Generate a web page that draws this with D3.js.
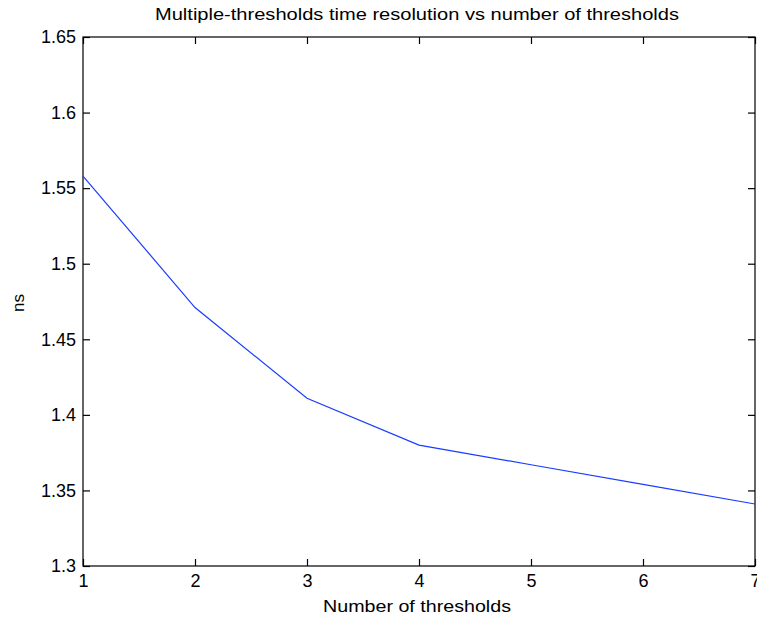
<!DOCTYPE html>
<html>
<head>
<meta charset="utf-8">
<script src="https://cdn.jsdelivr.net/npm/d3@7"></script>
<style>
html,body{margin:0;padding:0;background:#fff;}
svg{display:block;}
text{font-family:"Liberation Sans",Arial,sans-serif;fill:#000;}
</style>
</head>
<body>
<svg id="chart" width="757" height="624"></svg>
<script>
const thresholds = [1, 2, 3, 4, 5, 6, 7];
const resolutionNs = [1.558, 1.471, 1.411, 1.380, 1.367, 1.354, 1.341];
const xTicks = [1, 2, 3, 4, 5, 6, 7];
const yTicks = [1.3, 1.35, 1.4, 1.45, 1.5, 1.55, 1.6, 1.65];
const titleText = "Multiple-thresholds time resolution vs number of thresholds";
const xLabelText = "Number of thresholds";
const yLabelText = "ns";

const svg = d3.select("#chart");
const L = 83, R = 755, T = 37, B = 566;
const x = d3.scaleLinear().domain([1, 7]).range([L, R]);
const y = d3.scaleLinear().domain([1.3, 1.65]).range([B, T]);
const tickLen = 7;
const fmt = d => d3.format("")(d);

// box
svg.append("rect").attr("x", L).attr("y", T).attr("width", R - L).attr("height", B - T)
  .attr("fill", "#fff").attr("stroke", "#000").attr("stroke-width", 1.2);

// bottom axis
const xb = svg.append("g").attr("transform", `translate(0,${B})`)
  .call(d3.axisBottom(x).tickValues(xTicks).tickSize(-tickLen).tickPadding(8).tickFormat(fmt));
// top axis ticks
const xt = svg.append("g").attr("transform", `translate(0,${T})`)
  .call(d3.axisTop(x).tickValues(xTicks).tickSize(-tickLen).tickFormat(""));
// left axis
const yl = svg.append("g").attr("transform", `translate(${L},0)`)
  .call(d3.axisLeft(y).tickValues(yTicks).tickSize(-tickLen).tickPadding(7).tickFormat(fmt));
// right axis ticks
const yr = svg.append("g").attr("transform", `translate(${R},0)`)
  .call(d3.axisRight(y).tickValues(yTicks).tickSize(-tickLen).tickFormat(""));

[xb, xt, yl, yr].forEach(g => {
  g.select(".domain").remove();
  g.selectAll(".tick line").attr("stroke", "#000").attr("stroke-width", 1.2);
  g.selectAll("text").attr("font-size", 18).attr("fill", "#000")
    .style("font-family", "'Liberation Sans', Arial, sans-serif");
});

// line
const line = d3.line().x((d, i) => x(thresholds[i])).y(d => y(d));
svg.append("path").datum(resolutionNs)
  .attr("d", line).attr("fill", "none").attr("stroke", "#1a3cff").attr("stroke-width", 1.2);

// title
svg.append("text").attr("x", (155 + 679) / 2).attr("y", 20)
  .attr("text-anchor", "middle").attr("font-size", 16)
  .attr("textLength", 524).attr("lengthAdjust", "spacingAndGlyphs")
  .text(titleText);

// x label
svg.append("text").attr("x", (323 + 511) / 2).attr("y", 612)
  .attr("text-anchor", "middle").attr("font-size", 17)
  .attr("textLength", 188).attr("lengthAdjust", "spacingAndGlyphs")
  .text(xLabelText);

// y label
svg.append("text").attr("transform", "translate(24,303) rotate(-90)")
  .attr("text-anchor", "middle").attr("font-size", 17)
  .text(yLabelText);
</script>
</body>
</html>
